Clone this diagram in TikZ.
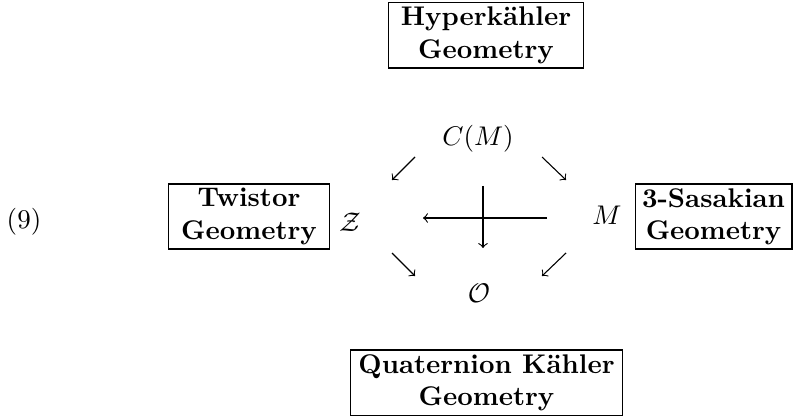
\documentclass[tikz,border=0pt]{standalone}
\usepackage{amssymb,amsmath}

\begin{document}
\begin{tikzpicture}[
    x=0.01301cm, y=-0.01301cm, % one unit is one pixel of the layout
    ->, % makes edges directed
    >=to, % arrow head style
    % Styling for the nodes
    geoBox/.style={
        rectangle,
        draw,
        align=center,
        font=\bfseries,
        minimum height=24.1pt,
        inner sep=0pt
    },
    objNode/.style={inner sep=0pt}
]
    \useasboundingbox (0,0) rectangle (794,416);

    % Define Nodes
    \node[geoBox, minimum width=71.9pt] (hyper) at (486,35.5) {Hyperkähler\\Geometry};
    \node[geoBox, minimum width=59.3pt] (twistor) at (249,216.5) {Twistor\\Geometry};
    \node[geoBox, minimum width=58.1pt] (sasaki) at (713.5,216.5) {3-Sasakian\\Geometry};
    \node[geoBox, minimum width=101pt] (quat) at (486.5,382.5) {Quaternion Kähler\\Geometry};

    \node[objNode] (eq) at (24,222) {(9)};
    \node[objNode] (cone) at (478,138.5) {$C(M)$};
    \node[objNode] (twsp) at (350,222) {$\mathcal{Z}$};
    \node[objNode] (mfd) at (607,215.5) {$M$};
    \node[objNode] (orb) at (479,293) {$\mathcal{O}$};

    % Arrow ends
    \coordinate (tl0) at (415,157);
    \coordinate (tl1) at (392,180);
    \coordinate (tr0) at (542,157);
    \coordinate (tr1) at (566,180);
    \coordinate (bl0) at (392,253);
    \coordinate (bl1) at (415,276);
    \coordinate (br0) at (566,253);
    \coordinate (br1) at (542,276);
    \coordinate (h0) at (547,218);
    \coordinate (h1) at (423,218);
    \coordinate (v0) at (483,186);
    \coordinate (v1) at (483,248);

    % Draw Edges
    \draw (tl0) -- (tl1);
    \draw (tr0) -- (tr1);
    \draw (bl0) -- (bl1);
    \draw (br0) -- (br1);
    \draw (h0) -- (h1);
    \draw (v0) -- (v1);

\end{tikzpicture}
\end{document}
